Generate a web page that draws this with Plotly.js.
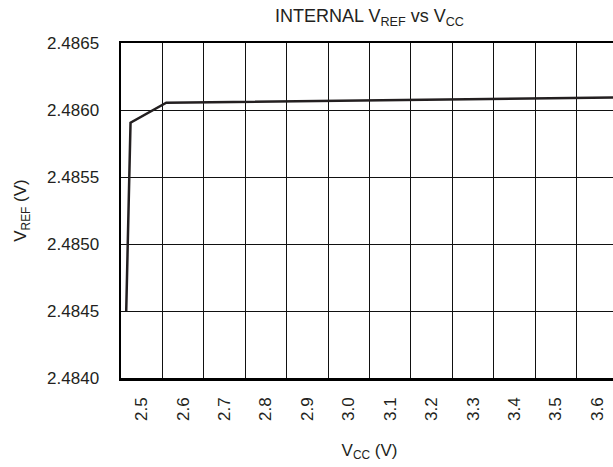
<!DOCTYPE html>
<html>
<head>
<meta charset="utf-8">
<script src="https://cdn.plot.ly/plotly-3.0.1.min.js"></script>
<style>
html, body { margin: 0; padding: 0; overflow: hidden; background: #fff; }
#chart { width: 640px; height: 467px; }
</style>
</head>
<body>
<div id="chart"></div>
<script>
// Data
const vcc = [2.4626, 2.4730, 2.5593, 2.88, 3.24, 3.65];
const vref = [2.48450, 2.485905, 2.486054, 2.486065, 2.48608, 2.486093];
const xTickVals = [2.5, 2.6, 2.7, 2.8, 2.9, 3.0, 3.1, 3.2, 3.3, 3.4, 3.5, 3.6];
const xTickText = ['2.5', '2.6', '2.7', '2.8', '2.9', '3.0', '3.1', '3.2', '3.3', '3.4', '3.5', '3.6'];
const yTickVals = [2.4840, 2.4845, 2.4850, 2.4855, 2.4860, 2.4865];
const yTickText = ['2.4840', '2.4845', '2.4850', '2.4855', '2.4860', '2.4865'];

const textColor = '#231f20';
const fontFamily = 'Liberation Sans, Arial, sans-serif';

const trace = {
  x: vcc,
  y: vref,
  type: 'scatter',
  mode: 'lines',
  line: { color: '#231f20', width: 2.5 },
  hoverinfo: 'skip'
};

const layout = {
  width: 640,
  height: 467,
  margin: { l: 121, r: 22, t: 43, b: 89 },
  paper_bgcolor: '#ffffff',
  plot_bgcolor: '#ffffff',
  showlegend: false,
  font: { family: fontFamily, size: 17, color: textColor },
  title: {
    text: 'INTERNAL V<sub>REF</sub> vs V<sub>CC</sub>',
    font: { family: fontFamily, size: 18, color: textColor },
    xref: 'paper', x: 0.5, xanchor: 'center',
    yref: 'container', y: 0.966, yanchor: 'middle'
  },
  xaxis: {
    range: [2.45, 3.65],
    tickmode: 'array',
    tickvals: xTickVals,
    ticktext: xTickText,
    tickangle: -90,
    ticks: '',
    ticklabelstandoff: 10,
    showgrid: false,
    zeroline: false,
    showline: true,
    mirror: true,
    linecolor: '#000',
    linewidth: 2.5,
    minor: { tick0: 2.55, dtick: 0.1, showgrid: true, gridcolor: '#111', gridwidth: 1, ticks: '' },
    tickfont: { family: fontFamily, size: 17, color: textColor },
    title: { text: 'V<sub>CC</sub> (V)', font: { family: fontFamily, size: 17, color: textColor }, standoff: 24 }
  },
  yaxis: {
    range: [2.4840, 2.4865],
    tickmode: 'array',
    tickvals: yTickVals,
    ticktext: yTickText,
    ticks: '',
    ticklabelstandoff: 16,
    showgrid: true,
    gridcolor: '#111',
    gridwidth: 1,
    zeroline: false,
    showline: true,
    mirror: true,
    linecolor: '#000',
    linewidth: 2.5,
    tickfont: { family: fontFamily, size: 17, color: textColor },
    title: { text: 'V<sub>REF</sub> (V)', font: { family: fontFamily, size: 17, color: textColor }, standoff: 16 }
  }
};

Plotly.newPlot('chart', [trace], layout, { staticPlot: true, displayModeBar: false });
</script>
</body>
</html>
